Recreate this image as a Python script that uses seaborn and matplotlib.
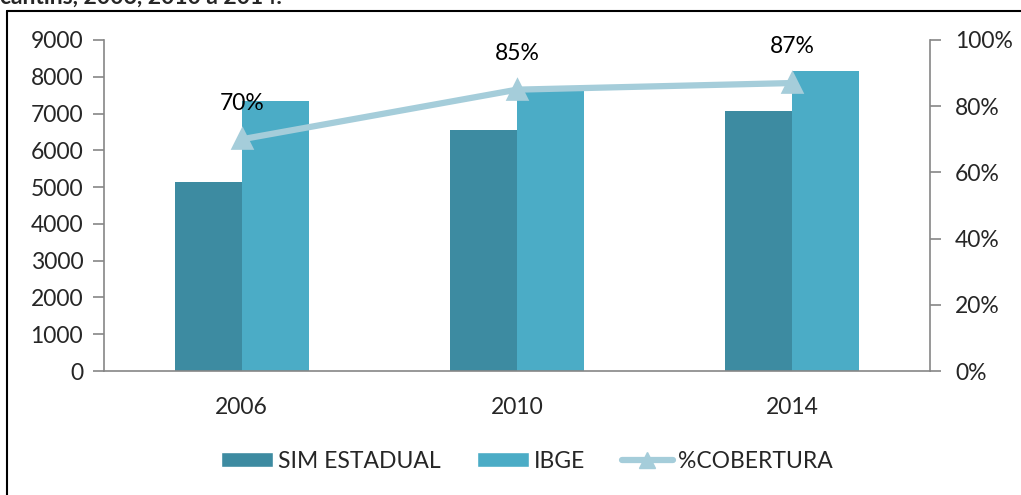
import pandas as pd
import matplotlib.pyplot as plt
import seaborn as sns
from matplotlib.lines import Line2D
from matplotlib.patches import Patch
from matplotlib.ticker import PercentFormatter

anos = ['2006', '2010', '2014']
sim_estadual = [5130, 6540, 7070]
ibge = [7330, 7640, 8170]
cobertura = [0.70, 0.85, 0.87]
rotulos_cob = ['70%', '85%', '87%']

cor_sim = '#3D8BA1'
cor_ibge = '#4BACC6'
cor_cob = '#A5CDDA'
cinza = '#868686'

sns.set_style('white')
plt.rcParams['font.family'] = ['Lato', 'DejaVu Sans']
fs = 16.5

df = pd.DataFrame({
    'Ano': anos * 2,
    'Valor': sim_estadual + ibge,
    'Serie': ['SIM ESTADUAL'] * 3 + ['IBGE'] * 3,
})
df_cob = pd.DataFrame({'Ano': anos, 'Cobertura': cobertura})

fig = plt.figure(figsize=(10.21, 4.95), dpi=100)
ax = fig.add_axes([104 / 1021, 1 - 371 / 495, (930 - 104) / 1021, (371 - 40) / 495])

sns.barplot(data=df, x='Ano', y='Valor', hue='Serie', palette=[cor_sim, cor_ibge],
            width=0.486, saturation=1, linewidth=0, ax=ax, legend=False)
ax.set_ylim(0, 9000)
ax.set_yticks(range(0, 9001, 1000))
ax.set_xlim(-0.5, 2.5)
ax.set_xlabel('')
ax.set_ylabel('')

ax2 = ax.twinx()
sns.pointplot(data=df_cob, x='Ano', y='Cobertura', color=cor_cob, markers='^',
              linewidth=4.5, markersize=11, ax=ax2)
ax2.set_ylim(0, 1)
ax2.set_yticks([0, 0.2, 0.4, 0.6, 0.8, 1.0])
ax2.yaxis.set_major_formatter(PercentFormatter(1.0, decimals=0))
ax2.set_ylabel('')
ax2.set_xlim(-0.5, 2.5)
for i, (v, t) in enumerate(zip(cobertura, rotulos_cob)):
    ax2.annotate(t, (i, v), xytext=(0, 26), textcoords='offset points',
                 ha='center', va='center', fontsize=fs, color='black')

# eixos
for a in (ax, ax2):
    for s in a.spines.values():
        s.set_visible(False)
ax.spines['left'].set_visible(True)
ax.spines['bottom'].set_visible(True)
ax2.spines['right'].set_visible(True)
for s in (ax.spines['left'], ax.spines['bottom'], ax2.spines['right']):
    s.set_color(cinza)
    s.set_linewidth(1.2)

ax.set_xticks([0, 1, 2])
ax.set_xticklabels(anos)
ax.set_xticks([-0.5, 0.5, 1.5, 2.5], minor=True)
ax.tick_params(axis='x', which='major', length=0, pad=19, labelsize=fs)
ax.tick_params(axis='x', which='minor', length=8, color=cinza, width=1.2, direction='out')
ax.tick_params(axis='y', length=8, color=cinza, width=1.2, direction='out', pad=7, labelsize=fs, left=True)
ax2.tick_params(axis='y', length=8, color=cinza, width=1.2, direction='out', pad=10, labelsize=fs, right=True)
ax2.tick_params(axis='x', length=0)

handles = [
    Patch(facecolor=cor_sim, label='SIM ESTADUAL'),
    Patch(facecolor=cor_ibge, label='IBGE'),
    Line2D([], [], color=cor_cob, lw=4.5, marker='^', markersize=11, label='%COBERTURA'),
]
fig.legend(handles=handles, loc='center', bbox_to_anchor=(527 / 1021, 1 - 461 / 495),
           ncol=3, frameon=False, fontsize=fs, handlelength=2.25, handleheight=0.65,
           handletextpad=0.22, columnspacing=1.6)

# moldura e título cortado
fig.add_artist(Line2D([7 / 1021, 7 / 1021], [0, 1 - 11 / 495], color='black', lw=1.5))
fig.add_artist(Line2D([7 / 1021, 1], [1 - 11 / 495, 1 - 11 / 495], color='black', lw=1.5))
fig.text(0.0, 1 - 4 / 495, 'cantins, 2006, 2010 a 2014.', fontsize=fs, fontweight='bold',
         ha='left', va='baseline')

fig.savefig('out.png', dpi=100)
